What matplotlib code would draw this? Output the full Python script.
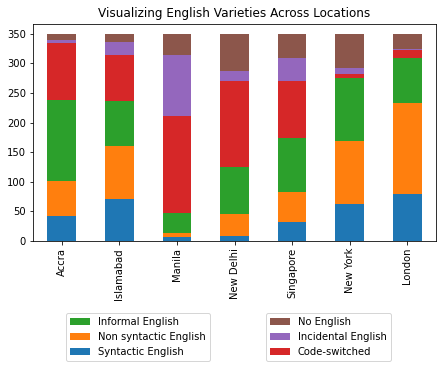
import matplotlib
matplotlib.use('Agg')
import matplotlib.pyplot as plt
import pandas as pd

locations = ['Accra', 'Islamabad', 'Manila', 'New Delhi', 'Singapore', 'New York', 'London']
syntactic = [42, 71, 7, 8, 32, 62, 79]
non_syntactic = [59, 89, 7, 38, 51, 107, 155]
informal = [137, 76, 33, 79, 91, 106, 76]
code_switched = [97, 79, 164, 145, 97, 8, 12]
incidental = [5, 22, 103, 18, 39, 9, 3]
no_english = [10, 13, 36, 62, 40, 58, 25]

df = pd.DataFrame({'Syntactic English': syntactic,
                   'Non syntactic English': non_syntactic,
                   'Informal English': informal,
                   'Code-switched': code_switched,
                   'Incidental English': incidental,
                   'No English': no_english}, index=locations)

fig = plt.figure(figsize=(445 / 72, 366 / 72), dpi=72)
ax = fig.add_axes([33 / 445, 125 / 366, 403 / 445, 217.5 / 366])
df.plot(kind='bar', stacked=True, ax=ax, legend=False)
ax.set_title('Visualizing English Varieties Across Locations')

handles, labels = ax.get_legend_handles_labels()
h = dict(zip(labels, handles))

# two separate legends under the plot
left = ['Informal English', 'Non syntactic English', 'Syntactic English']
right = ['No English', 'Incidental English', 'Code-switched']
fig.legend([h[k] for k in left], left, loc='upper left',
           bbox_to_anchor=(61 / 445, 1 - 308 / 366))
fig.legend([h[k] for k in right], right, loc='upper left',
           bbox_to_anchor=(261 / 445, 1 - 308 / 366))

fig.savefig('out.png', dpi=72)
